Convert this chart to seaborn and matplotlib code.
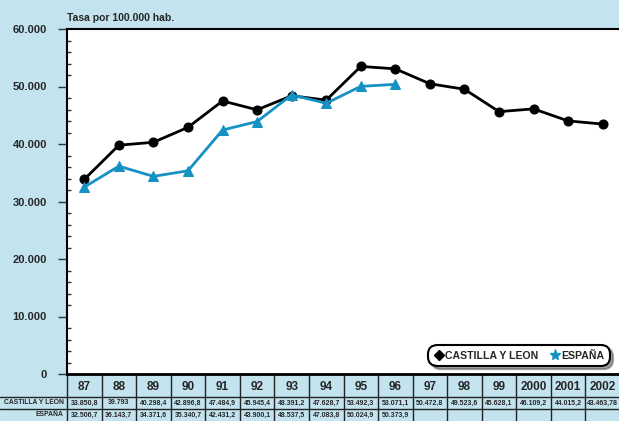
import matplotlib
matplotlib.use("Agg")
import matplotlib.pyplot as plt
import matplotlib.transforms as mtransforms
from matplotlib.lines import Line2D
from matplotlib.ticker import MultipleLocator, FuncFormatter
import seaborn as sns
import pandas as pd
import numpy as np

YEARS = ["87", "88", "89", "90", "91", "92", "93", "94", "95", "96",
         "97", "98", "99", "2000", "2001", "2002"]
CASTILLA = [33850.8, 39793, 40298.4, 42896.8, 47484.9, 45945.4, 48391.2, 47628.7,
            53492.3, 53071.1, 50472.8, 49523.6, 45628.1, 46109.2, 44015.2, 43463.78]
ESPANA = [32506.7, 36143.7, 34371.6, 35340.7, 42431.2, 43900.1, 48537.5, 47083.8,
          50024.9, 50373.9]
CASTILLA_TXT = ["33.850,8", "39.793", "40.298,4", "42.896,8", "47.484,9", "45.945,4",
                "48.391,2", "47.628,7", "53.492,3", "53.071,1", "50.472,8", "49.523,6",
                "45.628,1", "46.109,2", "44.015,2", "43.463,78"]
ESPANA_TXT = ["32.506,7", "36.143,7", "34.371,6", "35.340,7", "42.431,2", "43.900,1",
              "48.537,5", "47.083,8", "50.024,9", "50.373,9"]

BG = "#c3e3ef"
BLACK = "#000000"
BLUE = "#1591c4"

sns.set_theme(style="ticks")
plt.rcParams["font.family"] = ["Liberation Sans", "DejaVu Sans"]

pos = np.arange(len(YEARS))
df_cyl = pd.DataFrame({"x": pos, "v": CASTILLA})
df_esp = pd.DataFrame({"x": pos[:len(ESPANA)], "v": ESPANA})

fig = plt.figure(figsize=(6.19, 4.21), dpi=100, facecolor=BG)
ax = fig.add_axes([67 / 619, 1 - 374 / 421, 553 / 619, 345 / 421])
ax.set_facecolor("white")

sns.lineplot(data=df_cyl, x="x", y="v", ax=ax, color=BLACK, linewidth=2,
             marker="o", markersize=6.5, markeredgecolor=BLACK)
sns.lineplot(data=df_esp, x="x", y="v", ax=ax, color=BLUE, linewidth=2,
             marker="^", markersize=7, markeredgecolor=BLUE)

ax.set_xlim(-0.5, len(YEARS) - 0.5)
ax.set_ylim(0, 60000)
ax.set_xticks([])
ax.set_xlabel("")
ax.set_ylabel("")
ax.yaxis.set_major_locator(MultipleLocator(10000))
ax.yaxis.set_minor_locator(MultipleLocator(2000))
ax.yaxis.set_major_formatter(FuncFormatter(lambda v, p: f"{int(v):,}".replace(",", ".")))
ax.tick_params(axis="y", which="major", direction="out", length=6.5, width=1,
               color="#333333", labelsize=8, pad=8)
ax.tick_params(axis="y", which="minor", direction="in", length=3, width=1,
               color="#333333", left=True)
for lab in ax.get_yticklabels():
    lab.set_fontweight("bold")

for s in ["left", "top", "bottom"]:
    ax.spines[s].set_color(BLACK)
ax.spines["left"].set_linewidth(1.5)
ax.spines["top"].set_linewidth(1.5)
ax.spines["bottom"].set_linewidth(2)
ax.spines["right"].set_visible(False)

fig.text(67 / 619, 1 - 18 / 421, "Tasa por 100.000 hab.", fontsize=7.5,
         fontweight="bold", va="center", ha="left")

# legend
handles = [
    Line2D([], [], color=BLACK, marker="D", linestyle="none", markersize=5),
    Line2D([], [], color=BLUE, marker="*", linestyle="none", markersize=8),
]
leg = ax.legend(handles, ["CASTILLA Y LEON", "ESPAÑA"], ncol=2, loc="lower right",
                bbox_to_anchor=(0.99, 0.01), frameon=True, fancybox=True, shadow=True,
                prop={"weight": "bold", "size": 7.6}, handlelength=0.8,
                handletextpad=0.2, columnspacing=1.2, borderpad=0.45)
frame = leg.get_frame()
frame.set_edgecolor(BLACK)
frame.set_linewidth(1.5)
frame.set_boxstyle("round", pad=0.1, rounding_size=0.9)

# table below the axes
trans = mtransforms.blended_transform_factory(ax.transData, fig.transFigure)
ftr = fig.transFigure
y_top = 1 - 374 / 421
y_h = 1 - 397 / 421
y_r1 = 1 - 409 / 421
y_bot = 0.0
for i in range(len(YEARS) + 1):
    ax.plot([i - 0.5, i - 0.5], [y_top, y_bot], transform=trans, color="#222222",
            lw=1, clip_on=False)
for yy in (y_h, y_r1):
    fig.add_artist(Line2D([0, 1], [yy, yy], transform=ftr, color="#222222", lw=1))

for i, yr in enumerate(YEARS):
    ax.text(i, (y_top + y_h) / 2 - 0.004, yr, transform=trans, ha="center", va="center",
            fontsize=8.5, fontweight="bold")
    ax.text(i, (y_h + y_r1) / 2, CASTILLA_TXT[i], transform=trans, ha="center",
            va="center", fontsize=5, fontweight="bold")
    if i < len(ESPANA_TXT):
        ax.text(i, (y_r1 + y_bot) / 2, ESPANA_TXT[i], transform=trans, ha="center",
                va="center", fontsize=5, fontweight="bold")

fig.text(4 / 619, (y_h + y_r1) / 2, "CASTILLA Y LEON", fontsize=4.9, fontweight="bold",
         ha="left", va="center")
fig.text(63 / 619, (y_r1 + y_bot) / 2, "ESPAÑA", fontsize=4.9, fontweight="bold",
         ha="right", va="center")

fig.savefig("out.png", dpi=100, facecolor=BG)
